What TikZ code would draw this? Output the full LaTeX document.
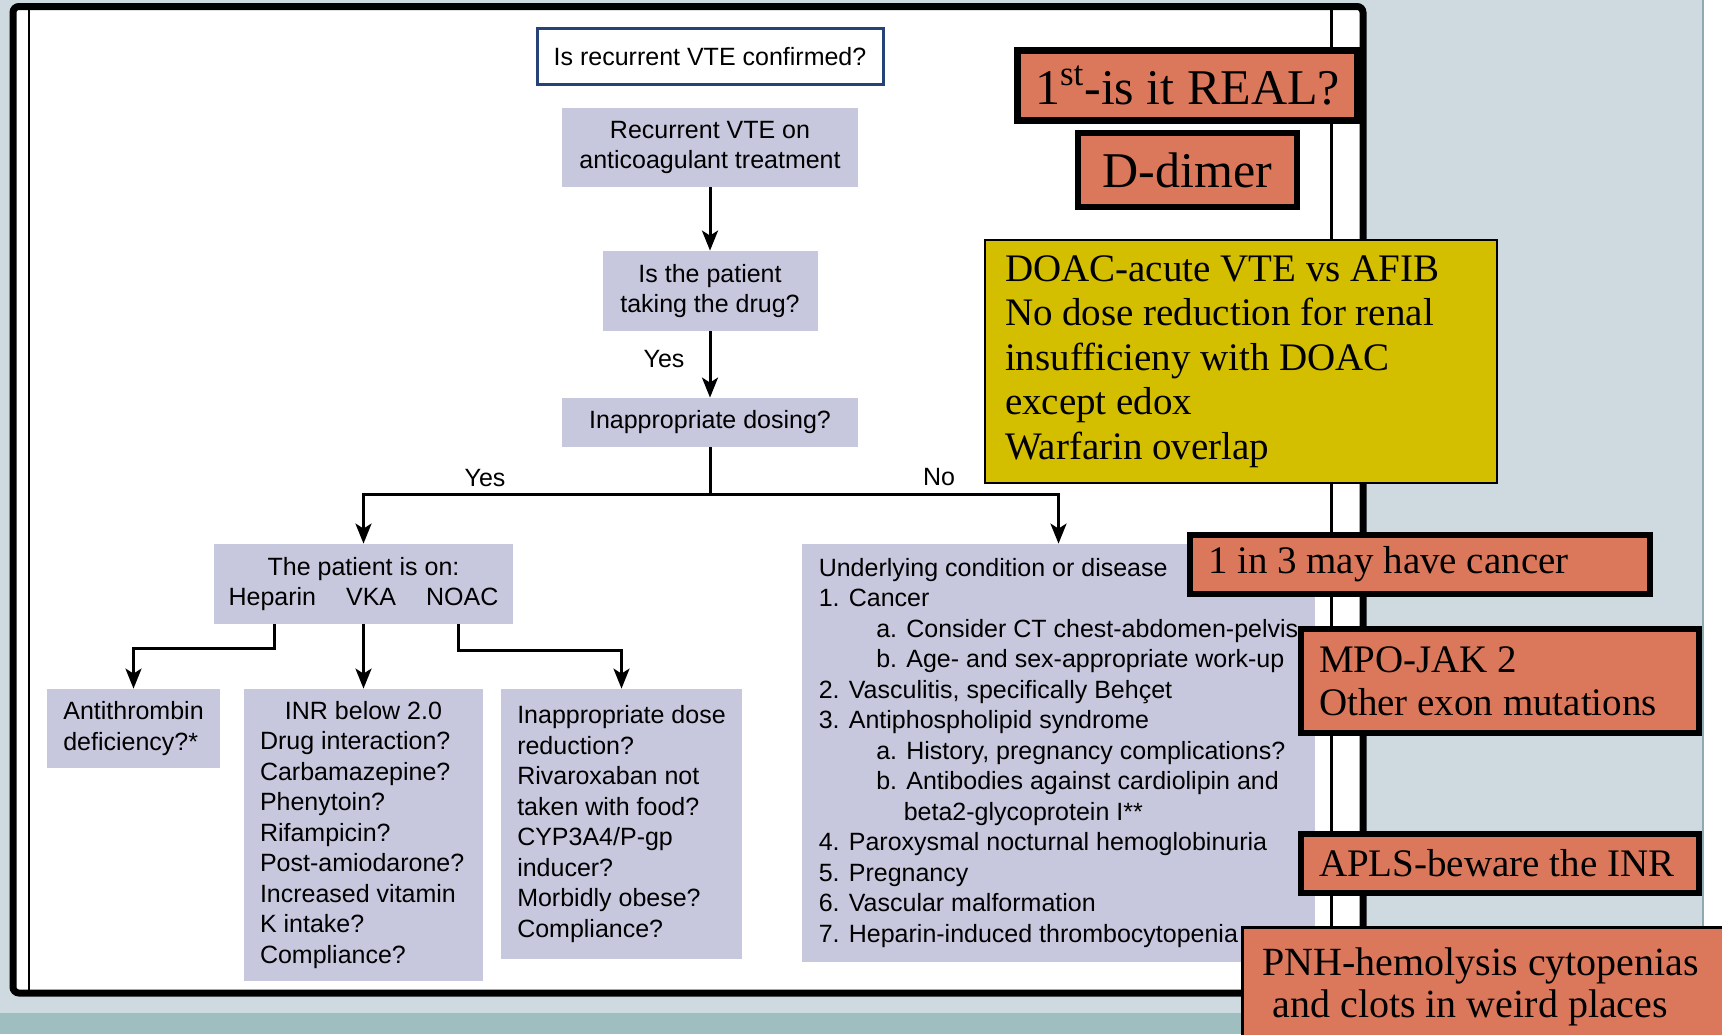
\documentclass[tikz,border=0pt]{standalone}
\usepackage{fontspec}
\setmainfont{Liberation Sans}
\newfontfamily\notefamily{Liberation Serif}
\usetikzlibrary{arrows.meta}

\definecolor{pagebg}{RGB}{207,218,224}
\definecolor{stripteal}{RGB}{158,190,192}
\definecolor{edgeteal}{RGB}{140,170,175}
\definecolor{boxlav}{RGB}{199,200,221}
\definecolor{topblue}{RGB}{38,66,118}
\definecolor{noteorange}{RGB}{219,120,92}
\definecolor{noteyellow}{RGB}{212,190,0}

\newcommand{\flowtext}{\fontsize{12.5}{15.25}\selectfont}
\newcommand{\notetext}{\notefamily\fontsize{19.5}{21.5}\selectfont}
\newcommand{\bignotetext}{\notefamily\fontsize{25}{30}\selectfont}

\tikzset{
  flowbox/.style={fill=boxlav, font=\flowtext, inner sep=0pt},
  flowlabel/.style={font=\flowtext, inner sep=0pt},
  flowline/.style={line width=1.5pt},
  flowarrow/.style={flowline, -{Stealth[length=10pt,width=8pt,inset=2.5pt]}},
  notebox/.style={fill=noteorange, draw=black, line width=3pt, font=\notetext,
    inner xsep=9pt, inner ysep=0pt, align=flush left},
}

\begin{document}
\begin{tikzpicture}[x=0.5pt,y=-0.5pt]
\clip (0,0) rectangle (1722,1034);
% slide background
\fill[pagebg] (0,0) rectangle (1703,1034);
\fill[white] (1703,0) rectangle (1722,1034);
\draw[edgeteal, line width=1pt] (1703,0) -- (1703,1034);
\fill[stripteal] (0,1013) rectangle (1703,1034);
% frame of the figure
\draw[line width=3.5pt, fill=white, rounded corners=3pt] (13,6.5) rectangle (1363,993);
\draw[line width=1.2pt] (29,8) -- (29,991);
\draw[line width=1.2pt] (1331.5,8) -- (1331.5,991);

% flowchart
\node[draw=topblue, line width=1.5pt, fill=white, font=\flowtext, minimum width=173pt, minimum height=28pt] (confirm) at (710,56.5) {Is recurrent VTE confirmed?};
\node[flowbox, align=center, minimum width=148pt, minimum height=39.5pt] (recur) at (710,147.5) {Recurrent VTE on\\anticoagulant treatment};
\node[flowbox, align=center, minimum width=107.5pt, minimum height=40pt] (taking) at (710,291) {Is the patient\\taking the drug?};
\node[flowbox, minimum width=148pt, minimum height=24.5pt] (dosing) at (710,422.5) {Inappropriate dosing?};
\node[flowbox, align=center, minimum width=149.5pt, minimum height=40pt] (onwhat) at (363.5,584) {The patient is on:\\Heparin\hspace{1.2em}VKA\hspace{1.2em}NOAC};
\node[flowbox, align=left, minimum width=86.5pt, minimum height=39.5pt] (antithr) at (133.5,728.5) {Antithrombin\\deficiency?*};
\node[flowbox, align=flush left, text width=103.5pt, inner xsep=8pt, minimum height=146pt] (inr) at (363.5,835) {\makebox[\hsize]{INR below 2.0}\\Drug interaction?\\Carbamazepine?\\Phenytoin?\\Rifampicin?\\Post-amiodarone?\\Increased vitamin\\K intake?\\Compliance?};
\node[flowbox, align=left, minimum width=120.5pt, minimum height=135pt] (noac) at (621.5,824) {Inappropriate dose\\reduction?\\Rivaroxaban not\\taken with food?\\CYP3A4/P-gp\\inducer?\\Morbidly obese?\\Compliance?};
\node[flowbox, align=left, minimum width=256.5pt, minimum height=209pt] (under) at (1058.5,753) {Underlying condition or disease\\1. Cancer\\\hspace*{2.3em}a. Consider CT chest-abdomen-pelvis\\\hspace*{2.3em}b. Age- and sex-appropriate work-up\\2. Vasculitis, specifically Behçet\\3. Antiphospholipid syndrome\\\hspace*{2.3em}a. History, pregnancy complications?\\\hspace*{2.3em}b. Antibodies against cardiolipin and\\\hspace*{3.4em}beta2-glycoprotein I**\\4. Paroxysmal nocturnal hemoglobinuria\\5. Pregnancy\\6. Vascular malformation\\7. Heparin-induced thrombocytopenia};

\draw[flowarrow] (recur) -- (taking);
\draw[flowarrow] (taking) -- (dosing);
\draw[flowline] (dosing.south) -- ++(0,47) coordinate (fork);
\draw[flowarrow] (fork) -| (onwhat.north);
\draw[flowarrow] (fork) -| (under.north);
\draw[flowarrow] (onwhat) -- (inr);
\coordinate (hepport) at (274.5,624);
\draw[flowarrow] (hepport) -- ++(0,24) -| (antithr.north);
\coordinate (noacport) at (458,624);
\draw[flowarrow] (noacport) -- ++(0,26) -| (noac.north);

\node[flowlabel] (yesdrug) at (664,359) {Yes};
\node[flowlabel] (yesleft) at (485,478) {Yes};
\node[flowlabel] (noright) at (939,477) {No};

% notes on the slide
\node[notebox, line width=3.5pt, font=\bignotetext, align=center, minimum width=169pt, minimum height=35pt] (real) at (1187.5,85.5) {1\textsuperscript{st}-is it REAL?};
\node[notebox, font=\bignotetext, align=center, minimum width=109.5pt, minimum height=37pt] (ddimer) at (1187.5,170) {D-dimer};
\node[notebox, fill=noteyellow, line width=1pt, inner xsep=10pt, font=\notefamily\fontsize{19.5}{22.25}\selectfont, text width=236pt, minimum height=121.5pt] (doac) at (1241,361.5) {DOAC-acute VTE vs AFIB\\No dose reduction for renal\\insufficieny with DOAC\\except edox\\Warfarin overlap};
\node[notebox, text width=212pt, minimum height=29.5pt] (cancer) at (1420,564.5) {1 in 3 may have cancer};
\node[notebox, text width=181pt, minimum height=52pt] (mpo) at (1500,681) {MPO-JAK 2\\Other exon mutations};
\node[notebox, text width=181pt, minimum height=29.5pt] (apls) at (1500,863.5) {APLS-beware the INR};
\node[notebox, line width=1.5pt, anchor=north west, text width=240pt, inner xsep=10pt, inner ysep=10pt, font=\notefamily\fontsize{20}{21}\selectfont] (pnh) at (1241,926) {PNH-hemolysis cytopenias\\\hspace*{.25em}and clots in weird places};
\end{tikzpicture}
\end{document}
